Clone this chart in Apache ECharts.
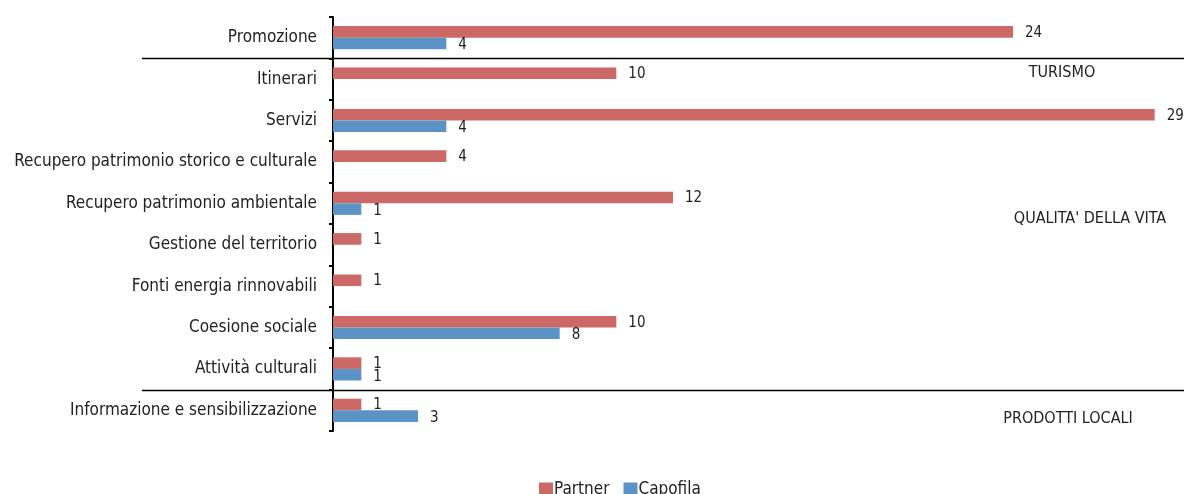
<!DOCTYPE html>
<html>
<head>
<meta charset="utf-8">
<script src="https://cdn.jsdelivr.net/npm/echarts@6/dist/echarts.min.js"></script>
<style>html,body{margin:0;padding:0;background:#fff}#c{width:1184px;height:494px}</style>
</head>
<body>
<div id="c"></div>
<script>
const categories = ['Promozione', 'Itinerari', 'Servizi', 'Recupero patrimonio storico e culturale', 'Recupero patrimonio ambientale', 'Gestione del territorio', 'Fonti energia rinnovabili', 'Coesione sociale', 'Attività culturali', 'Informazione e sensibilizzazione'];
const partner = [24, 10, 29, 4, 12, 1, 1, 10, 1, 1];
const capofila = [4, null, 4, null, 1, null, null, 8, 1, 3];
const groups = [
  { name: 'TURISMO', from: 0, to: 0 },
  { name: "QUALITA' DELLA VITA", from: 1, to: 8 },
  { name: 'PRODOTTI LOCALI', from: 9, to: 9 }
];
const FONT = '"DejaVu Sans Condensed", "Liberation Sans Narrow", "Arial Narrow", sans-serif';

const chart = echarts.init(document.getElementById('c'));
const option = {
  animation: false,
  textStyle: { fontFamily: FONT },
  grid: { left: 333, right: 1, top: 17, bottom: 63 },
  legend: {
    top: 481, left: 534, padding: [0, 5, 0, 5],
    itemWidth: 14, itemHeight: 14, itemGap: 14,
    icon: 'rect',
    textStyle: { fontFamily: FONT, fontSize: 17, color: '#222', padding: [0, 0, 0, -4] },
    data: ['Partner', 'Capofila']
  },
  xAxis: {
    type: 'value', min: 0, max: 30,
    show: false
  },
  yAxis: {
    type: 'category', data: categories, inverse: true,
    axisLine: { lineStyle: { color: '#000', width: 2 } },
    axisTick: { show: true, length: 4, lineStyle: { color: '#000', width: 2 } },
    axisLabel: { fontFamily: FONT, fontSize: 17, color: '#222', margin: 16 }
  },
  series: [
    {
      name: 'Partner', type: 'bar', data: partner,
      itemStyle: { color: '#CC6966' },
      barGap: 0, barCategoryGap: '44%',
      label: { show: true, position: 'right', distance: 12, fontFamily: FONT, fontSize: 15, color: '#222', offset: [0, 1] }
    },
    {
      name: 'Capofila', type: 'bar', data: capofila,
      itemStyle: { color: '#5B93C7' },
      barGap: 0, barCategoryGap: '44%',
      label: { show: true, position: 'right', distance: 12, fontFamily: FONT, fontSize: 15, color: '#222', offset: [0, 2] }
    }
  ]
};
chart.setOption(option);

// group separators and group labels, placed from the axis scale
const graphics = [];
const xRight = 1184;
const labelX = [1062, 1090, 1068];
const yOf = (v) => chart.convertToPixel({ yAxisIndex: 0 }, v);
const band = yOf(1) - yOf(0);
groups.forEach((g, i) => {
  const top = yOf(g.from);
  if (i > 0) {
    const yLine = Math.round(top - band / 2) + 0.5;
    graphics.push({ type: 'line', shape: { x1: 142, y1: yLine, x2: xRight, y2: yLine }, style: { stroke: '#000', lineWidth: 1.3 }, z: 10 });
  }
  let yText;
  if (i === 0) yText = top + band * 0.85;
  else if (i === 1) yText = yOf(4) + band * 0.37;
  else yText = top + band * 0.2;
  graphics.push({ type: 'text', x: labelX[i], y: yText, style: { text: g.name, fontFamily: FONT, fontSize: 16, fill: '#222', textAlign: 'center', textVerticalAlign: 'middle' }, z: 10 });
});
chart.setOption({ graphic: graphics });
</script>
</body>
</html>
